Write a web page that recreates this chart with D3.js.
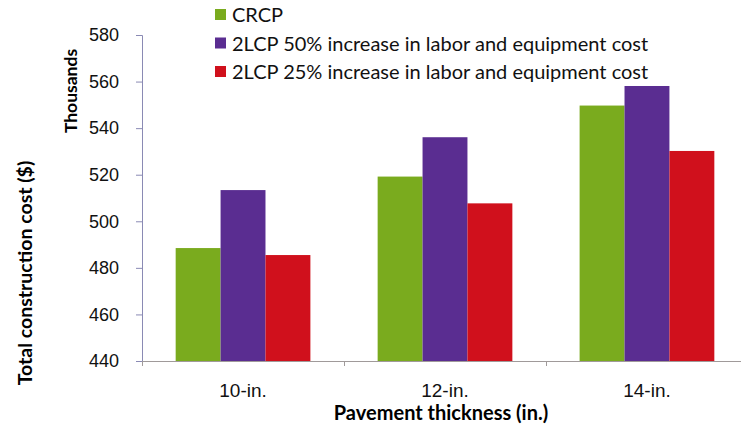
<!DOCTYPE html>
<meta charset="utf-8">
<style>
body { margin: 0; background: white; }
svg { display: block; font-family: Lato, "Open Sans", sans-serif; }
.tick text { fill: #111; }
</style>
<body>
<svg width="741" height="436"></svg>
<script src="https://d3js.org/d3.v7.min.js"></script>
<script>

// data (thousands of $)
var categories = ["10-in.", "12-in.", "14-in."];
var seriesNames = ["CRCP",
  "2LCP 50% increase in labor and equipment cost",
  "2LCP 25% increase in labor and equipment cost"];
var crcp   = [488.5, 519.2, 549.7];
var lcp50  = [513.4, 536.1, 558.1];
var lcp25  = [485.5, 507.7, 530.2];
var yTicks = [440, 460, 480, 500, 520, 540, 560, 580];

var colors = ["#7aab1e", "#5a2d91", "#d0101c"];
var series = [crcp, lcp50, lcp25];

var margin = {top: 35, left: 142},
    width = 606,
    height = 326;

var svg = d3.select("svg");
var g = svg.append("g")
    .attr("transform", "translate(" + margin.left + "," + margin.top + ")");

var x = d3.scaleBand()
    .domain(categories)
    .range([0, width])
    .paddingInner(0.333)
    .paddingOuter(0.1667);

var xs = d3.scaleBand()
    .domain(d3.range(series.length))
    .range([0, x.bandwidth()]);

var y = d3.scaleLinear()
    .domain([440, 580])
    .range([height, 0]);

// bars
series.forEach(function(vals, si) {
  g.selectAll(".bar" + si)
    .data(vals)
    .enter().append("rect")
      .attr("x", function(d, i) { return x(categories[i]) + xs(si); })
      .attr("width", xs.bandwidth())
      .attr("y", function(d) { return y(d); })
      .attr("height", function(d) { return height - y(d); })
      .attr("fill", colors[si]);
});

// y axis
var yAxis = g.append("g")
    .call(d3.axisLeft(y).tickValues(yTicks).tickSize(6).tickPadding(17));
yAxis.select(".domain").attr("stroke", "#8a8ab4");
yAxis.selectAll(".tick line").attr("stroke", "#8a8ab4");
yAxis.selectAll("text").attr("font-size", "18px");

// x axis: boundary ticks
var xb = d3.scaleLinear().domain([0, categories.length]).range([0, width]);
var xAxisLine = g.append("g")
    .attr("transform", "translate(0," + height + ")")
    .call(d3.axisBottom(xb).ticks(categories.length).tickSize(5).tickFormat(""));
xAxisLine.select(".domain").attr("stroke", "#a09a9a");
xAxisLine.selectAll(".tick line").attr("stroke", "#a09a9a");

// x axis: category labels
var xAxis = g.append("g")
    .attr("transform", "translate(0," + height + ")")
    .call(d3.axisBottom(x).tickSize(0).tickPadding(23));
xAxis.select(".domain").remove();
xAxis.selectAll("text").attr("font-size", "19px");

// axis titles
svg.append("text")
    .attr("x", 441)
    .attr("y", 420)
    .attr("text-anchor", "middle")
    .attr("font-weight", "bold")
    .attr("font-size", "20px")
    .text("Pavement thickness (in.)");

svg.append("text")
    .attr("transform", "translate(32,273) rotate(-90)")
    .attr("text-anchor", "middle")
    .attr("font-weight", "bold")
    .attr("font-size", "19.5px")
    .text("Total construction cost ($)");

svg.append("text")
    .attr("transform", "translate(77,91) rotate(-90)")
    .attr("text-anchor", "middle")
    .attr("font-weight", "bold")
    .attr("font-size", "17.5px")
    .text("Thousands");

// legend
var legend = svg.append("g").attr("transform", "translate(215,15)");
var items = legend.selectAll("g")
    .data(seriesNames)
    .enter().append("g")
      .attr("transform", function(d, i) { return "translate(0," + (i * 28.5) + ")"; });
items.append("rect")
    .attr("x", 0).attr("y", -6)
    .attr("width", 11).attr("height", 11)
    .attr("fill", function(d, i) { return colors[i]; });
items.append("text")
    .attr("x", 17)
    .attr("dy", "0.35em")
    .attr("font-size", "20px")
    .attr("fill", "#111")
    .text(function(d) { return d; });

</script>
</body>
